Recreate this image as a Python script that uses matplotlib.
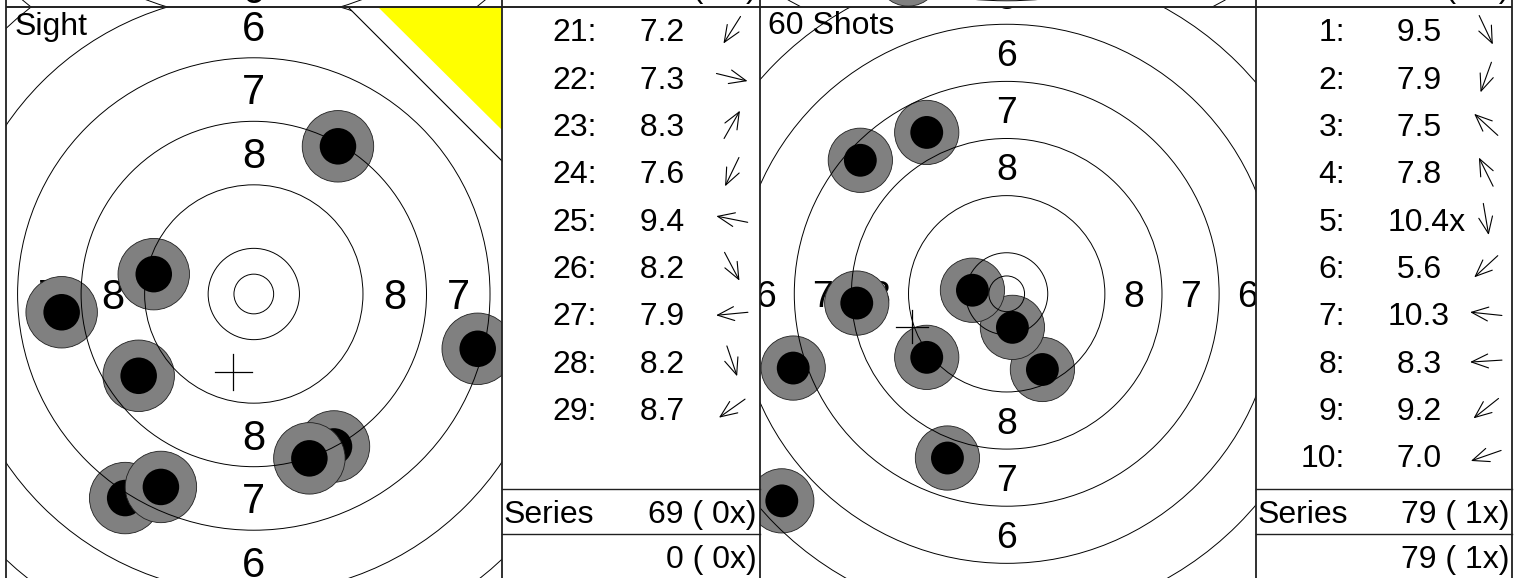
import numpy as np
import matplotlib
matplotlib.use("Agg")
import matplotlib.pyplot as plt
from matplotlib.patches import Circle, Polygon

plt.rcParams['font.family'] = ['Liberation Sans', 'DejaVu Sans']

# ------------------------------------------------------------------ data
panel_titles = ["Sight", "60 Shots"]

sight_numbers = [21, 22, 23, 24, 25, 26, 27, 28, 29]
sight_scores = ["7.2", "7.3", "8.3", "7.6", "9.4", "8.2", "7.9", "8.2", "8.7"]
sight_x_mm = [-16.2, 28.2, 10.6, -11.7, -12.6, 10.1, -24.2, 7.0, -14.5]
sight_y_mm = [-25.7, -6.9, 18.6, -24.3, 2.5, -19.2, -2.3, -20.7, -10.3]

match_numbers = [1, 2, 3, 4, 5, 6, 7, 8, 9, 10]
match_scores = ["9.5", "7.9", "7.5", "7.8", "10.4x", "5.6", "10.3", "8.3", "9.2", "7.0"]
match_x_mm = [5.0, -8.3, -20.5, -11.2, 0.8, -31.5, -4.8, -21.0, -11.2, -29.9]
match_y_mm = [-10.6, -23.0, 18.7, 22.6, -4.7, -29.0, 0.5, -1.3, -8.9, -10.4]

cumulative_totals = [0, 79]
cumulative_x_counts = [0, 1]

# previous row of panels: only its bottom edge is visible at the top
prev_shot_x_mm = [-13.8]
prev_shot_y_mm = [-50.0]

series_label = "Series"
ring_label_values = [1, 2, 3, 4, 5, 6, 7, 8]

# ------------------------------------------------------------------ geometry (10 m air pistol target, mm)
INNER_TEN_R = 2.5
TEN_R = 5.75
RING_STEP = 8.0
HALO_R = 4.5
HOLE_R = 2.3
CROSS = 2.3
LABEL_H_MM = 3.75

# ------------------------------------------------------------------ layout (pixels)
W, H, DPI = 1519, 578, 100
TABLE_FS = 23
CAP = 0.716 * TABLE_FS * DPI / 72
ROW0, ROW_STEP = 30, 47.3
SERIES_Y, TOTAL_Y = 512, 557
LINE1_Y, LINE2_Y = 489, 534
ARROW_HALF = 16

fig = plt.figure(figsize=(W / DPI, H / DPI), dpi=DPI)


def px_axes(rect, zorder=1):
    x0, y0, x1, y1 = rect
    ax = fig.add_axes([x0 / W, 1 - y1 / H, (x1 - x0) / W, (y1 - y0) / H], zorder=zorder)
    ax.set_axis_off()
    return ax


def target_axes(rect, centre, scale):
    ax = px_axes(rect)
    x0, y0, x1, y1 = rect
    cx, cy = centre
    ax.set_xlim((x0 - cx) / scale, (x1 - cx) / scale)
    ax.set_ylim((cy - y1) / scale, (cy - y0) / scale)
    return ax


def draw_target(ax, xs, ys, scale, cross=True):
    fs = LABEL_H_MM * scale / 0.716 * 72 / DPI
    for v in ring_label_values:
        r = TEN_R + RING_STEP * (10 - v) - RING_STEP / 2
        for ux, uy in ((0, 1), (0, -1), (-1, 0), (1, 0)):
            ax.text(ux * r, uy * r - LABEL_H_MM / 2, str(v), ha='center', va='baseline',
                    fontsize=fs, clip_on=True, zorder=1)
    for x, y in zip(xs, ys):
        ax.add_patch(Circle((x, y), HALO_R, facecolor='#808080', edgecolor='#202020',
                            lw=0.6, zorder=2))
        ax.add_patch(Circle((x, y), HOLE_R, facecolor='black', edgecolor='none', zorder=2))
    radii = [INNER_TEN_R] + [TEN_R + RING_STEP * k for k in range(10)]
    for r in radii:
        ax.add_patch(Circle((0, 0), r, fill=False, edgecolor='black', lw=0.7, zorder=3))
    if cross and len(xs):
        mx, my = np.mean(xs), np.mean(ys)
        ax.plot([mx - CROSS, mx + CROSS], [my, my], color='black', lw=0.9, zorder=4)
        ax.plot([mx, mx], [my - CROSS, my + CROSS], color='black', lw=0.9, zorder=4)


def table_axes(rect):
    ax = px_axes(rect)
    x0, y0, x1, y1 = rect
    ax.set_xlim(x0, x1)
    ax.set_ylim(y1, y0)
    return ax


def fmt_total(total, xc):
    return f"{total} ({xc:2d}x)"


def draw_table(ax, numbers, scores, xs, ys, cols, cum_total, cum_x):
    num_right, score_left, arrow_cx, label_left, value_right = cols
    for i, (n, s, x, y) in enumerate(zip(numbers, scores, xs, ys)):
        yc = ROW0 + ROW_STEP * i
        ax.text(num_right, yc + CAP / 2, f"{n}:", ha='right', va='baseline', fontsize=TABLE_FS)
        disp = s if len(s.rstrip('x')) >= 4 else ' ' + s
        ax.text(score_left, yc + CAP / 2, disp, ha='left', va='baseline', fontsize=TABLE_FS)
        ang = np.arctan2(y, x)
        dx, dy = np.cos(ang) * ARROW_HALF, -np.sin(ang) * ARROW_HALF
        ax.annotate('', xy=(arrow_cx + dx, yc + dy), xytext=(arrow_cx - dx, yc - dy),
                    arrowprops=dict(arrowstyle='->,head_length=0.6,head_width=0.25',
                                    color='black', lw=0.8, shrinkA=0, shrinkB=0,
                                    mutation_scale=20))
    series_total = sum(int(float(s.rstrip('x'))) for s in scores)
    series_x = sum(s.endswith('x') for s in scores)
    ax.text(label_left, SERIES_Y + CAP / 2, series_label, ha='left', va='baseline', fontsize=TABLE_FS)
    ax.text(value_right, SERIES_Y + CAP / 2, fmt_total(series_total, series_x), ha='right',
            va='baseline', fontsize=TABLE_FS)
    ax.text(value_right, TOTAL_Y + CAP / 2, fmt_total(cum_total, cum_x), ha='right',
            va='baseline', fontsize=TABLE_FS)


# ------------------------------------------------------------------ panels
LEFT_T, LEFT_C, LEFT_S = (6, 7, 502, 578), (253.8, 294.0), 7.94
RIGHT_T, RIGHT_C, RIGHT_S = (760, 7, 1256, 578), (1006.7, 293.8), 7.14
LEFT_TAB = (502, 7, 759, 578)
RIGHT_TAB = (1256, 7, 1512, 578)

axL = target_axes(LEFT_T, LEFT_C, LEFT_S)
draw_target(axL, sight_x_mm, sight_y_mm, LEFT_S)
axL.text((15 - LEFT_C[0]) / LEFT_S, (LEFT_C[1] - 35) / LEFT_S, panel_titles[0],
         ha='left', va='baseline', fontsize=TABLE_FS, zorder=1)

axR = target_axes(RIGHT_T, RIGHT_C, RIGHT_S)
draw_target(axR, match_x_mm, match_y_mm, RIGHT_S)
axR.text((768 - RIGHT_C[0]) / RIGHT_S, (RIGHT_C[1] - 34) / RIGHT_S, panel_titles[1],
         ha='left', va='baseline', fontsize=TABLE_FS, zorder=1)

tL = table_axes(LEFT_TAB)
draw_table(tL, sight_numbers, sight_scores, sight_x_mm, sight_y_mm,
           (597, 631, 732, 504, 757), cumulative_totals[0], cumulative_x_counts[0])
tR = table_axes(RIGHT_TAB)
draw_table(tR, match_numbers, match_scores, match_x_mm, match_y_mm,
           (1345, 1388, 1486, 1258, 1510), cumulative_totals[1], cumulative_x_counts[1])

# ------------------------------------------------------------------ strip of the previous row
sL = target_axes((6, 0, 502, 7), (253.8, -280), LEFT_S)
draw_target(sL, [], [], LEFT_S, cross=False)
sR = target_axes((760, 0, 1256, 7), (1006.7, -383), RIGHT_S)
draw_target(sR, prev_shot_x_mm, prev_shot_y_mm, RIGHT_S, cross=False)
for rect, xr, tot, xc in (((502, 0, 759, 7), 757, cumulative_totals[0], cumulative_x_counts[0]),
                          ((1256, 0, 1512, 7), 1510, cumulative_totals[1], cumulative_x_counts[1])):
    sa = table_axes(rect)
    sa.text(xr, -3, fmt_total(tot, xc), ha='right', va='baseline', fontsize=TABLE_FS, clip_on=True)

# ------------------------------------------------------------------ overlay: corner marker + grid lines
ov = fig.add_axes([0, 0, 1, 1], zorder=10)
ov.set_axis_off()
ov.set_xlim(0, W)
ov.set_ylim(H, 0)
ov.patch.set_alpha(0)
ov.add_patch(Polygon([(348, 7), (502, 7), (502, 161)], closed=True, facecolor='white',
                     edgecolor='none', zorder=1))
ov.add_patch(Polygon([(378, 7), (502, 7), (502, 130)], closed=True, facecolor='#ffff00',
                     edgecolor='none', zorder=2))
ov.plot([348, 502], [7, 161], color='black', lw=0.8, zorder=3)

LINE_C = '#202020'
ov.plot([6, 1512], [7, 7], color=LINE_C, lw=1.4, zorder=4, solid_capstyle='butt')
for xv in (6, 502, 759.5, 1256, 1512):
    ov.plot([xv, xv], [0, H], color=LINE_C, lw=1.3, zorder=4, solid_capstyle='butt')
for (x0, x1) in ((502, 759.5), (1256, 1512)):
    for yv in (LINE1_Y, LINE2_Y):
        ov.plot([x0, x1], [yv, yv], color=LINE_C, lw=1.0, zorder=4)

fig.savefig("out.png", dpi=DPI)
